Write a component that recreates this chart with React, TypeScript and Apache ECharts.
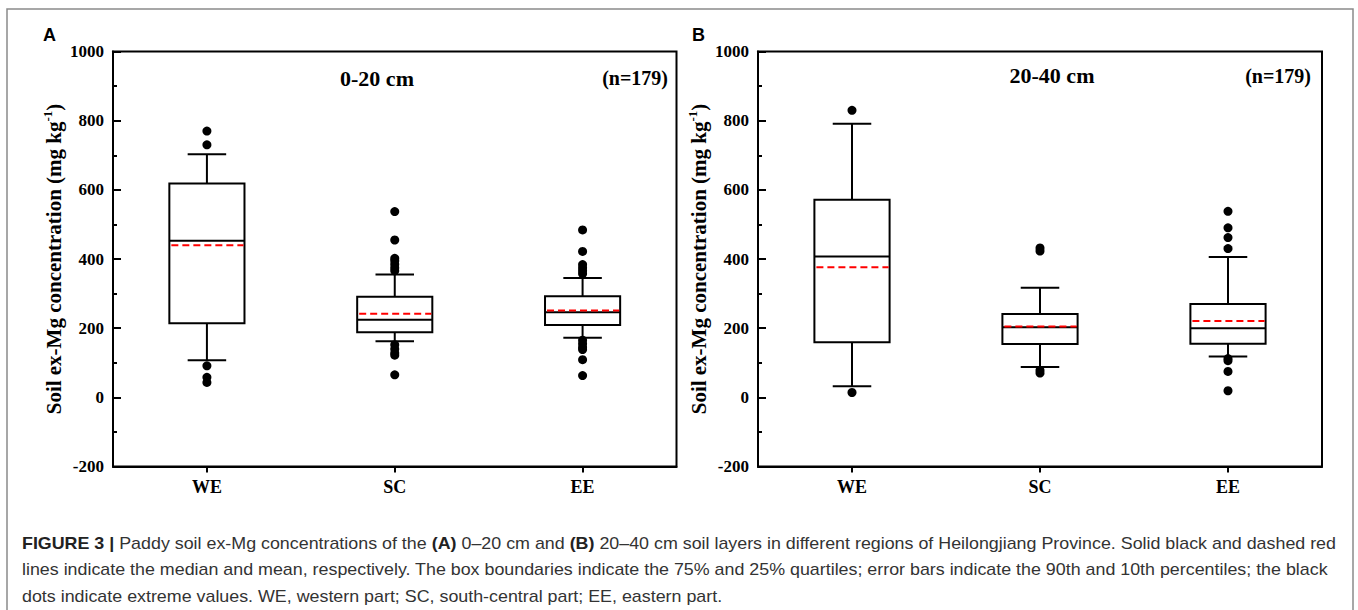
import React, { useEffect, useRef } from "react";
import * as echarts from "echarts";

// ---------- data ----------
const categories = ["WE", "SC", "EE"];
const yTicks = { min: -200, max: 1000, interval: 200 };

// Panel A: 0-20 cm
const p10A = [107, 162, 172];
const q1A = [214, 188, 209];
const medianA = [453, 224, 246];
const meanA = [440, 242, 251];
const q3A = [618, 291, 292];
const p90A = [703, 355, 345];
const outliersA = [
  [770, 730, 91, 58, 43],
  [537, 455, 402, 395, 385, 375, 366, 152, 140, 128, 122, 65],
  [484, 422, 384, 375, 366, 357, 165, 155, 145, 138, 109, 63],
];

// Panel B: 20-40 cm
const p10B = [32, 88, 118];
const q1B = [159, 154, 155];
const medianB = [407, 203, 200];
const meanB = [376, 205, 221];
const q3B = [571, 241, 270];
const p90B = [791, 317, 406];
const outliersB = [
  [830, 14],
  [432, 423, 78, 70],
  [538, 490, 462, 430, 112, 106, 75, 19],
];

const panelTitles = ["0-20 cm", "20-40 cm"];
const sampleLabel = "(n=179)";
const panelLetters = ["A", "B"];
const captionLines = [
  "{b|FIGURE 3 |} Paddy soil ex-Mg concentrations of the {b|(A)} 0–20 cm and {b|(B)} 20–40 cm soil layers in different regions of Heilongjiang Province. Solid black and dashed red",
  "lines indicate the median and mean, respectively. The box boundaries indicate the 75% and 25% quartiles; error bars indicate the 90th and 10th percentiles; the black",
  "dots indicate extreme values. WE, western part; SC, south-central part; EE, eastern part.",
];

// ---------- styling ----------
const SERIF = '"Liberation Serif", "Times New Roman", serif';
const SANS = '"Liberation Sans", Arial, sans-serif';

function boxData(p10: number[], q1: number[], med: number[], mean: number[], q3: number[], p90: number[]) {
  return categories.map((_, i) => [i, p10[i], q1[i], med[i], mean[i], q3[i], p90[i]]);
}
function outlierData(list: number[][]) {
  const out: number[][] = [];
  list.forEach((arr, i) => arr.forEach((v) => out.push([i, v])));
  return out;
}

function renderBox(params: any, api: any) {
  const idx = api.value(0);
  const band = api.size([1, 0])[0];
  const bw = band * 0.4;
  const cap = band * 0.205;
  const pt = (k: number) => api.coord([idx, api.value(k)]);
  const lo = pt(1), q1 = pt(2), md = pt(3), mn = pt(4), q3 = pt(5), hi = pt(6);
  const cx = lo[0];
  const ls = { stroke: "#000", lineWidth: 2 };
  return {
    type: "group",
    children: [
      { type: "line", shape: { x1: cx, y1: q3[1], x2: cx, y2: hi[1] }, style: ls },
      { type: "line", shape: { x1: cx - cap / 2, y1: hi[1], x2: cx + cap / 2, y2: hi[1] }, style: ls },
      { type: "line", shape: { x1: cx, y1: q1[1], x2: cx, y2: lo[1] }, style: ls },
      { type: "line", shape: { x1: cx - cap / 2, y1: lo[1], x2: cx + cap / 2, y2: lo[1] }, style: ls },
      { type: "rect", shape: { x: cx - bw / 2, y: q3[1], width: bw, height: q1[1] - q3[1] }, style: { fill: "#fff", stroke: "#000", lineWidth: 2 } },
      { type: "line", shape: { x1: cx - bw / 2, y1: md[1], x2: cx + bw / 2, y2: md[1] }, style: ls },
      { type: "line", shape: { x1: cx - bw / 2 + 2, y1: mn[1], x2: cx + bw / 2 - 1, y2: mn[1] }, style: { stroke: "#ff0000", lineWidth: 2, lineDash: [7, 4] } },
    ],
  };
}

function yAxisCfg(gridIndex: number) {
  return {
    type: "value",
    gridIndex,
    min: yTicks.min,
    max: yTicks.max,
    interval: yTicks.interval,
    name: "{a|Soil ex-Mg concentration (mg kg}{s|-1}{a|)}",
    nameLocation: "middle",
    nameGap: 47,
    nameRotate: 90,
    nameTextStyle: {
      fontFamily: SERIF,
      fontWeight: "bold",
      fontSize: 21,
      color: "#000",
      rich: {
        a: { fontFamily: SERIF, fontWeight: "bold", fontSize: 21, color: "#000", lineHeight: 25 },
        s: { fontFamily: SERIF, fontWeight: "bold", fontSize: 13, color: "#000", verticalAlign: "top", lineHeight: 14 },
      },
    },
    axisLine: { show: true, lineStyle: { color: "#000", width: 2 } },
    axisTick: { show: true, inside: true, length: 8, lineStyle: { color: "#000", width: 2 } },
    minorTick: { show: true, splitNumber: 2, length: 4, lineStyle: { color: "#000", width: 2 } },
    splitLine: { show: false },
    axisLabel: {
      fontFamily: SERIF,
      fontWeight: "bold",
      fontSize: 17,
      color: "#000",
      margin: 9,
      formatter: (v: number) => String(v),
    },
  };
}

function xAxisCfg(gridIndex: number) {
  return {
    type: "category",
    gridIndex,
    data: categories,
    boundaryGap: true,
    axisLine: { show: true, onZero: false, lineStyle: { color: "#000", width: 2 } },
    axisTick: { show: true, alignWithLabel: true, inside: false, length: 6, lineStyle: { color: "#000", width: 2 } },
    splitLine: { show: false },
    axisLabel: { fontFamily: SERIF, fontWeight: "bold", fontSize: 18, color: "#000", margin: 11 },
  };
}

export default function App() {
  const ref = useRef<HTMLDivElement>(null);
  useEffect(() => {
    if (!ref.current) return;
    const chart = echarts.init(ref.current, null, { renderer: "svg" });
    const grids = [
      { left: 113, top: 51.5, width: 563.5, height: 415, show: true, borderColor: "#000", borderWidth: 2, backgroundColor: "transparent" },
      { left: 758, top: 51.5, width: 564, height: 415, show: true, borderColor: "#000", borderWidth: 2, backgroundColor: "transparent" },
    ];
    const textStyle = (txt: string, font: string, size: number, extra: any = {}) => ({
      text: txt,
      fontFamily: font,
      fontWeight: "bold",
      fontSize: size,
      fill: "#000",
      ...extra,
    });
    const graphics: any[] = [
      {
        type: "polyline",
        shape: { points: [[7, 612], [7, 9], [1353, 9], [1353, 612]] },
        style: { stroke: "#8a8a8a", lineWidth: 1.5, fill: null },
        silent: true,
      },
      { type: "text", x: 43, y: 35, style: textStyle(panelLetters[0], SANS, 18, { verticalAlign: "middle" }) },
      { type: "text", x: 692, y: 35, style: textStyle(panelLetters[1], SANS, 18, { verticalAlign: "middle" }) },
      { type: "text", x: 377, y: 78, style: textStyle(panelTitles[0], SERIF, 22, { align: "center", verticalAlign: "middle" }) },
      { type: "text", x: 668, y: 78, style: textStyle(sampleLabel, SERIF, 20, { align: "right", verticalAlign: "middle" }) },
      { type: "text", x: 1052, y: 75, style: textStyle(panelTitles[1], SERIF, 22, { align: "center", verticalAlign: "middle" }) },
      { type: "text", x: 1311, y: 76, style: textStyle(sampleLabel, SERIF, 20, { align: "right", verticalAlign: "middle" }) },
    ];
    const capY = [543, 569.5, 596];
    captionLines.forEach((line, i) => {
      graphics.push({
        type: "text",
        x: 22,
        y: capY[i],
        scaleX: 1.05,
        style: {
          text: line,
          fontFamily: SANS,
          fontSize: 17,
          fill: "#333",
          verticalAlign: "middle",
          rich: {
            b: { fontFamily: SANS, fontSize: 17, fontWeight: "bold", fill: "#222" },
          },
        },
      });
    });

    chart.setOption({
      animation: false,
      backgroundColor: "#fff",
      grid: grids,
      xAxis: [xAxisCfg(0), xAxisCfg(1)],
      yAxis: [yAxisCfg(0), yAxisCfg(1)],
      series: [
        {
          type: "custom",
          xAxisIndex: 0,
          yAxisIndex: 0,
          renderItem: renderBox,
          encode: { x: 0, y: [1, 2, 3, 4, 5, 6] },
          data: boxData(p10A, q1A, medianA, meanA, q3A, p90A),
          z: 3,
        },
        {
          type: "scatter",
          xAxisIndex: 0,
          yAxisIndex: 0,
          symbolSize: 9,
          itemStyle: { color: "#000", opacity: 1 },
          data: outlierData(outliersA),
          z: 4,
        },
        {
          type: "custom",
          xAxisIndex: 1,
          yAxisIndex: 1,
          renderItem: renderBox,
          encode: { x: 0, y: [1, 2, 3, 4, 5, 6] },
          data: boxData(p10B, q1B, medianB, meanB, q3B, p90B),
          z: 3,
        },
        {
          type: "scatter",
          xAxisIndex: 1,
          yAxisIndex: 1,
          symbolSize: 9,
          itemStyle: { color: "#000", opacity: 1 },
          data: outlierData(outliersB),
          z: 4,
        },
      ],
      graphic: graphics,
    });
    return () => chart.dispose();
  }, []);
  return (
    <div
      ref={ref}
      style={{ position: "absolute", left: 0, top: 0, width: 1358, height: 610, background: "#fff" }}
    />
  );
}
